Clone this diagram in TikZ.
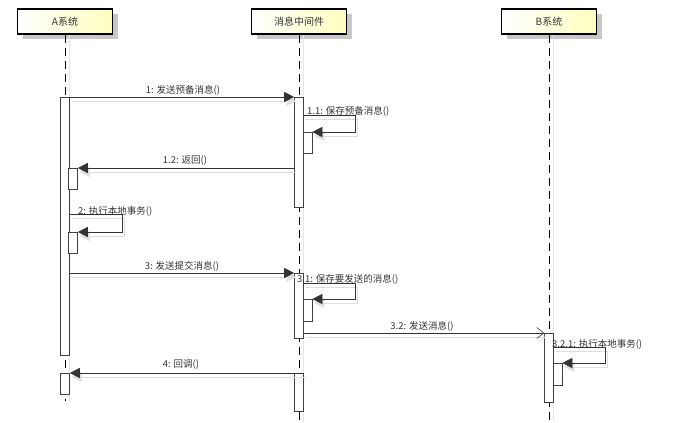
\documentclass[tikz,border=0pt]{standalone}
\usepackage{fontspec}
\setmainfont{Noto Sans CJK SC}
\usetikzlibrary{arrows.meta}
\usetikzlibrary{positioning}
\usetikzlibrary{shadows}

\tikzset{
  lifebox/.style={draw=black,line width=1.3pt,rectangle,minimum width=95pt,minimum height=25pt,
    left color=white,right color=yellow!25,text=black!80,font=\fontsize{10}{11}\selectfont,
    drop shadow={shadow xshift=5pt,shadow yshift=-5pt,fill=black!22,opacity=1}},
  lifeline/.style={draw=black,line width=0.6pt,dash pattern=on 8pt off 5pt},
  lifeshadow/.style={draw=black!10,line width=0.6pt},
  actbar/.style={draw=black!75,fill=white,rectangle,minimum width=9pt,inner sep=0pt,anchor=north,line width=0.6pt},
  msgline/.style={draw=black!80,line width=0.6pt,-{Triangle[length=10pt,width=10pt]},
    preaction={draw=black!13,transform canvas={xshift=2pt,yshift=-4pt}}},
  asyncline/.style={draw=black!80,line width=0.6pt,-{Straight Barb[length=7pt,width=11pt]},
    preaction={draw=black!13,transform canvas={xshift=2pt,yshift=-4pt}}},
  msglab/.style={text=black!80,inner sep=0pt,font=\fontsize{9.5}{10}\selectfont}
}

\begin{document}
\begin{tikzpicture}[x=1pt,y=-1pt]

  \useasboundingbox (0,0) rectangle (689,423);

  % lifelines and their heads
  \node [lifebox] (A) at (65,21.5) {A系统};
  \node [lifebox] (M) at (299,21.5) {消息中间件};
  \node [lifebox] (B) at (549,21.5) {B系统};

  \coordinate (Aend) at (65,401);
  \coordinate (Mend) at (299,423);
  \coordinate (Bend) at (549,421);

  \draw [lifeshadow] ([xshift=4pt]A.south) -- ([xshift=4pt]Aend);
  \draw [lifeshadow] ([xshift=4pt]M.south) -- ([xshift=4pt]Mend);
  \draw [lifeshadow] ([xshift=4pt]B.south) -- ([xshift=4pt]Bend);

  \draw [lifeline] (A.south) -- (Aend);
  \draw [lifeline] (M.south) -- (Mend);
  \draw [lifeline] (B.south) -- (Bend);

  % activations
  \node [actbar,minimum height=258pt] (a1) at (65,97) {};
  \node [actbar,minimum height=21pt] (a1r) at (73,168) {};
  \node [actbar,minimum height=21pt] (a1s) at (73,232) {};
  \node [actbar,minimum height=21pt] (a2) at (65,373) {};

  \node [actbar,minimum height=110pt] (m1) at (299,97) {};
  \node [actbar,minimum height=21pt] (m1s) at (307.5,132) {};
  \node [actbar,minimum height=65pt] (m2) at (299,273) {};
  \node [actbar,minimum height=22pt] (m2s) at (307.5,299) {};
  \node [actbar,minimum height=38pt] (m3) at (299,373) {};

  \node [actbar,minimum height=69pt] (b1) at (549,333) {};
  \node [actbar,minimum height=22pt] (b1s) at (557.5,363) {};

  % messages
  \draw [msgline] (a1.north east) -- (m1.north west);
  \draw [msgline] ([yshift=-18pt]m1.north east) -- ++(51,0) |- (m1s.north east);
  \draw [msgline] (m1.west |- a1r.north) -- (a1r.north east);
  \draw [msgline] ([yshift=-117pt]a1.north east) -- ++(52,0) |- (a1s.north east);
  \draw [msgline] (a1.east |- m2.north) -- (m2.north west);
  \draw [msgline] ([yshift=-10pt]m2.north east) -- ++(51,0) |- (m2s.north east);
  \draw [asyncline] (m2.east |- b1.north) -- (b1.north west);
  \draw [msgline] ([yshift=-14pt]b1.north east) -- ++(51.5,0) |- (b1s.north east);
  \draw [msgline] (m3.north east) -- (a2.north east);

  % labels
  \node [msglab] (l1) at (183,90) {1: 发送预备消息()};
  \node [msglab,anchor=west] (l11) at (307,111) {1.1: 保存预备消息()};
  \node [msglab] (l12) at (185,161) {1.2: 返回()};
  \node [msglab,anchor=west] (l2) at (78,211) {2: 执行本地事务()};
  \node [msglab] (l3) at (182,266) {3: 发送提交消息()};
  \node [msglab,anchor=west] (l31) at (297,279) {3.1: 保存要发送的消息()};
  \node [msglab] (l32) at (422,326) {3.2: 发送消息()};
  \node [msglab,anchor=west] (l321) at (552,344) {3.2.1: 执行本地事务()};
  \node [msglab] (l4) at (181,365) {4: 回调()};

\end{tikzpicture}
\end{document}
